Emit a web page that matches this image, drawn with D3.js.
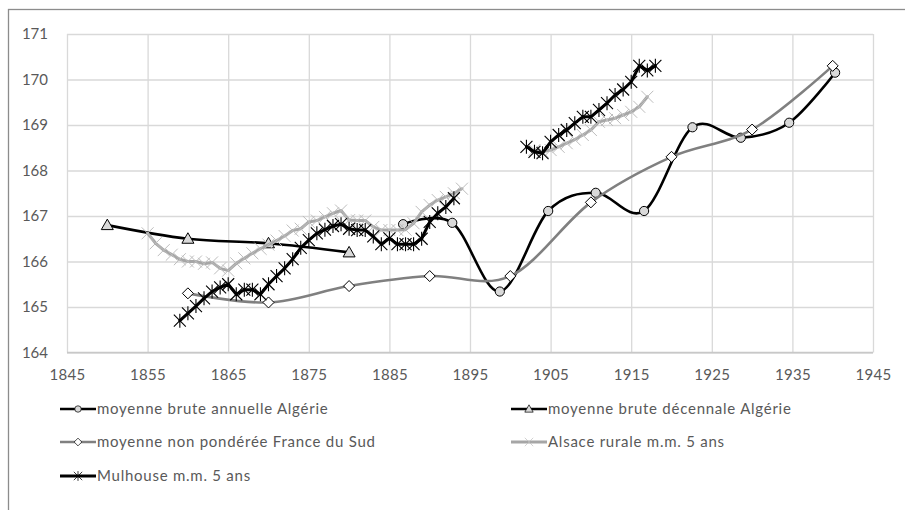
<!DOCTYPE html>
<html><head><meta charset="utf-8">
<script src="https://cdn.jsdelivr.net/npm/d3@7"></script>
<style>
body{margin:0;background:#fff}
svg{display:block}
text{font-family:Lato,"Open Sans",sans-serif;fill:#595959}
</style>
</head><body>
<svg id="chart" width="905" height="510"></svg>
<script>
// ---------- data ----------
const xTickLabels = [1845,1855,1865,1875,1885,1895,1905,1915,1925,1935,1945];
const yTickLabels = [164,165,166,167,168,169,170,171];

const seriesNames = [
  "moyenne brute annuelle Algérie",
  "moyenne brute décennale Algérie",
  "moyenne non pondérée France du Sud",
  "Alsace rurale m.m. 5 ans",
  "Mulhouse m.m. 5 ans"
];

const algAnnYears = [1886.7,1892.8,1898.7,1904.7,1910.6,1916.6,1922.6,1928.6,1934.6,1940.3];
const algAnnVals  = [166.82,166.85,165.34,167.11,167.51,167.11,168.95,168.72,169.05,170.15];

const algDecYears = [1850,1860,1870,1880];
const algDecVals  = [166.8,166.5,166.4,166.2];

const franceYears = [1860,1870,1880,1890,1900,1910,1920,1930,1940];
const franceVals  = [165.3,165.1,165.46,165.68,165.68,167.3,168.3,168.9,170.3];

const alsace1Years = d3.range(1855,1895);
const alsace1Vals = [166.62,166.4,166.25,166.15,166.05,166.0,166.0,165.95,165.98,165.85,
  165.8,165.96,166.07,166.18,166.28,166.37,166.46,166.56,166.68,166.72,
  166.87,166.9,166.98,167.06,167.12,166.91,166.9,166.9,166.76,166.69,
  166.69,166.69,166.7,166.84,167.09,167.24,167.35,167.42,167.5,167.6];
const alsace2Years = d3.range(1903,1918);
const alsace2Vals = [168.45,168.41,168.45,168.52,168.6,168.68,168.78,168.89,169.07,169.11,
  169.15,169.22,169.29,169.4,169.62];

const mulh1Years = d3.range(1859,1894);
const mulh1Vals = [164.7,164.86,165.02,165.19,165.34,165.43,165.5,165.28,165.38,165.38,
  165.28,165.5,165.68,165.85,166.05,166.3,166.47,166.62,166.7,166.78,
  166.82,166.72,166.69,166.69,166.55,166.38,166.51,166.38,166.38,166.38,
  166.5,166.87,167.06,167.2,167.39];
const mulh2Years = d3.range(1902,1919);
const mulh2Vals = [168.52,168.41,168.38,168.63,168.78,168.89,169.04,169.18,169.18,169.33,
  169.48,169.66,169.78,169.95,170.3,170.2,170.3];

// ---------- layout ----------
const svg = d3.select("#chart");
const x = d3.scaleLinear().domain([1845,1945]).range([67,873]);
const y = d3.scaleLinear().domain([164,171]).range([352.5,34]);

// outer chart border
svg.append("rect").attr("x",8.5).attr("y",9.5).attr("width",1000).attr("height",1000)
  .attr("fill","#fff").attr("stroke","#8c8c8c").attr("stroke-width",1.3);

// gridlines
const gx = svg.append("g").attr("transform",`translate(0,${y(164)})`)
  .call(d3.axisBottom(x).tickValues(xTickLabels).tickFormat(d3.format("d"))
    .tickSize(-(y(164)-y(171))).tickPadding(17));
gx.select(".domain").remove();
gx.selectAll(".tick line").attr("stroke","#d9d9d9").attr("stroke-width",1.3);
gx.selectAll(".tick text").style("font-size","15px").style("letter-spacing","0.3px").attr("fill","#595959");

const gy = svg.append("g").attr("transform",`translate(${x(1845)},0)`)
  .call(d3.axisLeft(y).tickValues(yTickLabels).tickFormat(d3.format("d"))
    .tickSize(-(x(1945)-x(1845))).tickPadding(19));
gy.select(".domain").remove();
gy.selectAll(".tick line").attr("stroke","#d9d9d9").attr("stroke-width",1.3);
gy.selectAll(".tick text").style("font-size","15px").attr("fill","#595959");
svg.append("line").attr("x1",x(1845)).attr("x2",x(1945)).attr("y1",y(164)).attr("y2",y(164))
  .attr("stroke","#c8c8c8").attr("stroke-width",1.3);

// ---------- markers ----------
const markers = {
  circle: g => g.append("circle").attr("r",4.6).attr("fill","#d9d9d9").attr("stroke","#000").attr("stroke-width",1),
  triangle: g => g.append("path").attr("d","M0,-6L6,4.5L-6,4.5Z").attr("fill","#d9d9d9").attr("stroke","#000").attr("stroke-width",1),
  diamond: g => g.append("path").attr("d","M0,-5.5L5.5,0L0,5.5L-5.5,0Z").attr("fill","#fff").attr("stroke","#000").attr("stroke-width",1),
  cross: g => g.append("path").attr("d","M-6,-6L6,6M-6,6L6,-6").attr("fill","none").attr("stroke","#bdbdbd").attr("stroke-width",1),
  star: g => g.append("path").attr("d","M-6,-6L6,6M-6,6L6,-6M0,-7L0,7").attr("fill","none").attr("stroke","#000").attr("stroke-width",1.1)
};

const styles = [
  {color:"#000", width:2.6, marker:"circle"},
  {color:"#000", width:2.6, marker:"triangle"},
  {color:"#808080", width:2.6, marker:"diamond"},
  {color:"#a6a6a6", width:3, marker:"cross"},
  {color:"#000", width:3, marker:"star"}
];

function drawSeries(years, vals, st, smooth){
  const pts = years.map((yr,i)=>[yr,vals[i]]);
  const line = d3.line().x(d=>x(d[0])).y(d=>y(d[1]))
    .curve(smooth ? d3.curveCatmullRom.alpha(0) : d3.curveLinear);
  svg.append("path").datum(pts).attr("d",line).attr("fill","none")
    .attr("stroke",st.color).attr("stroke-width",st.width)
    .attr("stroke-linejoin","round").attr("stroke-linecap","round");
  pts.forEach(p=>{
    const g = svg.append("g").attr("transform",`translate(${x(p[0])},${y(p[1])})`);
    markers[st.marker](g);
  });
}

drawSeries(algAnnYears, algAnnVals, styles[0], true);
drawSeries(algDecYears, algDecVals, styles[1], true);
drawSeries(franceYears, franceVals, styles[2], true);
drawSeries(alsace1Years, alsace1Vals, styles[3], false);
drawSeries(alsace2Years, alsace2Vals, styles[3], false);
drawSeries(mulh1Years, mulh1Vals, styles[4], false);
drawSeries(mulh2Years, mulh2Vals, styles[4], false);

// ---------- legend ----------
const legendPos = [[60,409],[511,409],[60,442],[511,442],[60,476]];
seriesNames.forEach((name,i)=>{
  const [lx,ly] = legendPos[i];
  const st = styles[i];
  const g = svg.append("g").attr("transform",`translate(${lx},${ly})`);
  g.append("line").attr("x1",0).attr("x2",36).attr("y1",0).attr("y2",0)
    .attr("stroke",st.color).attr("stroke-width",st.width);
  const m = g.append("g").attr("transform","translate(18,0) scale(0.7)");
  markers[st.marker](m);
  g.append("text").attr("x",37).attr("y",0).attr("dy","0.35em")
    .style("font-size","15px").style("letter-spacing","0.75px").text(name);
});
</script>
</body></html>
